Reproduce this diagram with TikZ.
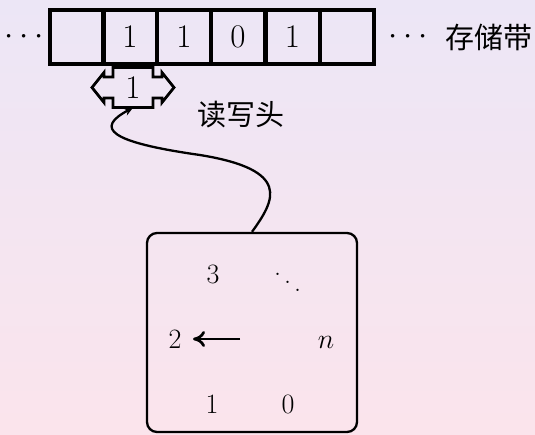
\RequirePackage{fix-cm}
\documentclass[tikz,border=0pt]{standalone}
\usepackage{fontspec}
\newfontfamily\cjk{Noto Sans CJK SC}
\usetikzlibrary{arrows.meta}
\definecolor{bgtop}{HTML}{ECE6F6}
\definecolor{bgbot}{HTML}{FBE4EC}
\tikzset{
  cell/.style={draw, line width=4pt, minimum size=54pt, inner sep=0pt, font=\fontsize{33}{38}\selectfont},
  bigtxt/.style={font=\fontsize{33}{38}\selectfont, inner sep=0pt},
  statetxt/.style={font=\fontsize{28}{32}\selectfont, inner sep=0pt},
  cjktxt/.style={font=\cjk\fontsize{29}{34}\selectfont, inner sep=0pt},
  headline/.style={line width=2.8pt, line join=miter},
  link/.style={line width=2.3pt, -{Stealth[length=9pt,width=8pt]}},
  hand/.style={line width=2.7pt, -{Computer Modern Rightarrow[length=12pt,width=16pt]}},
}
\begin{document}
\begin{tikzpicture}[x=1pt,y=-1pt]
\shade[top color=bgtop, bottom color=bgbot] (0,0) rectangle (535,434);
\useasboundingbox (0,0) rectangle (535,434);
% tape
\node[cell] (c1) at (76.5,37) {};
\node[cell] (c2) at (130,37) {1};
\node[cell] (c3) at (184,37) {1};
\node[cell] (c4) at (238,37) {0};
\node[cell] (c5) at (292.5,37) {1};
\node[cell] (c6) at (346.5,37) {};
\node[bigtxt] (dl) at (24,37) {$\cdots$};
\node[bigtxt] (dr) at (408,37) {$\cdots$};
\node[cjktxt] (lt) at (489,37) {存储带};
% head
\node[bigtxt, minimum size=40pt] (hd) at (133,87.5) {1};
\draw[headline] (92,87.5) -- (104,72.5) -- (104,77) -- (113,77) -- (113,67.5) -- (153,67.5)
  -- (153,77) -- (162,77) -- (162,72.5) -- (174,87.5) -- (162,102.5) -- (162,98) -- (153,98)
  -- (153,107.5) -- (113,107.5) -- (113,98) -- (104,98) -- (104,102.5) -- cycle;
\node[cjktxt] (lh) at (241,115) {读写头};
% control box
\node[draw, line width=2.3pt, rounded corners=10pt, minimum width=210pt, minimum height=199pt, inner sep=0pt] (box) at (252,332.5) {};
\node[statetxt, anchor=base] (s3) at (213,283) {3};
\node[statetxt, anchor=base west] (sd) at (274,291.8) {\raisebox{16pt}{.}\kern3pt\raisebox{8pt}{.}\kern3pt.};
\node[statetxt, anchor=base] (s2) at (175,348) {2};
\coordinate (a0) at (240,339);
\coordinate (a1) at (193,339);
\draw[hand] (a0) -- (a1);
\node[statetxt, anchor=base] (sn) at (326,348) {$n$};
\node[statetxt, anchor=base] (s1) at (212,413) {1};
\node[statetxt, anchor=base] (s0) at (288,413) {0};
% link
\draw[link] (box.north) .. controls (275,200) and (292,170) .. (200,155)
  .. controls (108,142) and (95,128) .. (hd.south);
\end{tikzpicture}
\end{document}
